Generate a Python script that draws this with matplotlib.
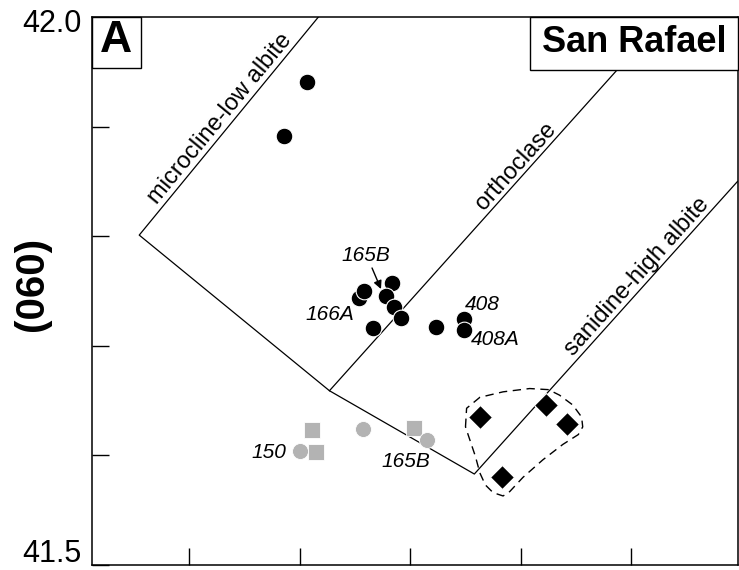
import numpy as np
import matplotlib
matplotlib.use("Agg")
import matplotlib.pyplot as plt
from matplotlib.patches import Rectangle
from matplotlib.transforms import blended_transform_factory, offset_copy

plt.rcParams['font.family'] = ['Liberation Sans', 'DejaVu Sans']

# ---- data ----
black_x = [50.807, 50.786, 50.854, 50.858, 50.884, 50.878, 50.885, 50.892, 50.866, 50.923, 50.949, 50.949]
black_y = [41.941, 41.891, 41.744, 41.750, 41.757, 41.745, 41.735, 41.725, 41.716, 41.717, 41.724, 41.714]

grey_sq_x = [50.811, 50.815, 50.903]
grey_sq_y = [41.623, 41.603, 41.625]

grey_ci_x = [50.800, 50.857, 50.915]
grey_ci_y = [41.604, 41.624, 41.614]

dia_x = [50.963, 51.023, 51.042, 50.983]
dia_y = [41.635, 41.646, 41.629, 41.580]

# field boundaries
boundary_x = [50.817, 50.655, 50.827, 50.958, 51.196]
boundary_y = [42.000, 41.801, 41.659, 41.583, 41.850]
ortho_x = [50.827, 51.130]
ortho_y = [41.659, 42.000]

enclosure_x = [50.950, 50.951, 50.963, 50.984, 51.008, 51.025, 51.035, 51.047, 51.055, 51.056,
               51.052, 51.038, 51.020, 51.002, 50.990, 50.984, 50.975, 50.968, 50.963, 50.959, 50.954]
enclosure_y = [41.626, 41.643, 41.653, 41.658, 41.661, 41.660, 41.655, 41.646, 41.635, 41.626,
               41.619, 41.610, 41.596, 41.580, 41.567, 41.563, 41.566, 41.573, 41.584, 41.599, 41.614]

sample_labels = ['165B', '166A', '408', '408A', '150', '165B']
sample_label_x = [50.860, 50.8275, 50.9649, 50.9767, 50.7723, 50.8962]
sample_label_y = [41.7828, 41.729, 41.7381, 41.7053, 41.6031, 41.594]

y_ticks = [41.5, 41.6, 41.7, 41.8, 41.9, 42.0]
y_ticklabels = ['41.5', '', '', '', '', '42.0']
x_ticks = [50.7, 50.8, 50.9, 51.0, 51.1]

fig = plt.figure(figsize=(7.39, 5.70), dpi=100)
ax = fig.add_axes([92/739, 5/570, 646/739, 548/570])
ax.set_xlim(50.6123, 51.1964)
ax.set_ylim(41.5, 42.0)

for s in ax.spines.values():
    s.set_linewidth(1.1)

ax.set_yticks(y_ticks)
ax.set_yticklabels([])
ax.set_xticks(x_ticks)
ax.set_xticklabels([])
ax.tick_params(axis='both', direction='in', length=12, width=1.0)

# y tick labels placed by hand (end labels only)
ytrans = blended_transform_factory(ax.transAxes, ax.transData)
for yv, lab in zip(y_ticks, y_ticklabels):
    if not lab:
        continue
    dy = -11 if yv == max(y_ticks) else 2.2
    ax.text(0, yv, lab, transform=offset_copy(ytrans, fig=fig, x=-7.5, y=dy, units='points'),
            ha='right', va='baseline', fontsize=22, clip_on=False)

# field lines
ax.plot(boundary_x, boundary_y, color='black', lw=0.9, zorder=2)
ax.plot(ortho_x, ortho_y, color='black', lw=0.9, zorder=2)

# enclosure
ax.plot(enclosure_x + enclosure_x[:1], enclosure_y + enclosure_y[:1], color='black', lw=1.0,
        dashes=(6, 4), zorder=2)

# data points
ax.plot(grey_sq_x, grey_sq_y, 's', color='#b3b3b3', ms=11, mec='white', mew=0.6, ls='none', zorder=3)
ax.plot(grey_ci_x, grey_ci_y, 'o', color='#b3b3b3', ms=11.5, mec='white', mew=0.6, ls='none', zorder=3)
for x, y in zip(black_x, black_y):
    ax.plot(x, y, 'o', color='black', ms=12, mec='white', mew=0.8, zorder=4)
ax.plot(dia_x, dia_y, 'D', color='black', ms=12, mec='white', mew=0.8, ls='none', zorder=4)

# line labels
def line_label(x0, y0, x1, y1, t, text):
    xa = x0 + t * (x1 - x0)
    ya = y0 + t * (y1 - y0)
    p0 = ax.transData.transform((x0, y0))
    p1 = ax.transData.transform((x1, y1))
    ang = np.degrees(np.arctan2(p1[1] - p0[1], p1[0] - p0[0]))
    ax.text(xa, ya, text, rotation=ang, rotation_mode='anchor', ha='center', va='bottom',
            fontsize=17, zorder=5)

line_label(boundary_x[1], boundary_y[1], boundary_x[0], boundary_y[0], 0.50, 'microcline-low albite')
line_label(ortho_x[0], ortho_y[0], ortho_x[1], ortho_y[1], 0.58, 'orthoclase')
line_label(boundary_x[3], boundary_y[3], boundary_x[4], boundary_y[4], 0.65, 'sanidine-high albite')

# sample labels
for lab, lx, ly in zip(sample_labels, sample_label_x, sample_label_y):
    ax.text(lx, ly, lab, fontsize=15, style='italic', ha='center', va='center', zorder=5)
ax.annotate('', xy=(50.8736, 41.7518), xytext=(50.8655, 41.771),
            arrowprops=dict(arrowstyle='-|>', color='black', lw=1.0, mutation_scale=12,
                            shrinkA=0, shrinkB=0), zorder=5)

# panel boxes
ax.add_patch(Rectangle((0, 1 - 51/548), 49/646, 51/548, transform=ax.transAxes,
                       facecolor='white', edgecolor='black', lw=1.0, zorder=6, clip_on=False))
ax.text(23.5/646, 1 - 24/548, 'A', transform=ax.transAxes, fontsize=32, fontweight='bold',
        ha='center', va='center', zorder=7)
ax.add_patch(Rectangle((438/646, 1 - 53/548), 208/646, 53/548, transform=ax.transAxes,
                       facecolor='white', edgecolor='black', lw=1.0, zorder=6, clip_on=False))
ax.text(542/646, 1 - 26/548, 'San Rafael', transform=ax.transAxes, fontsize=26,
        fontweight='bold', ha='center', va='center', zorder=7)

fig.text(32/739, 1 - 284/570, '(060)', rotation=90, fontsize=29, fontweight='bold',
         ha='center', va='center')

fig.savefig('out.png', dpi=100)
